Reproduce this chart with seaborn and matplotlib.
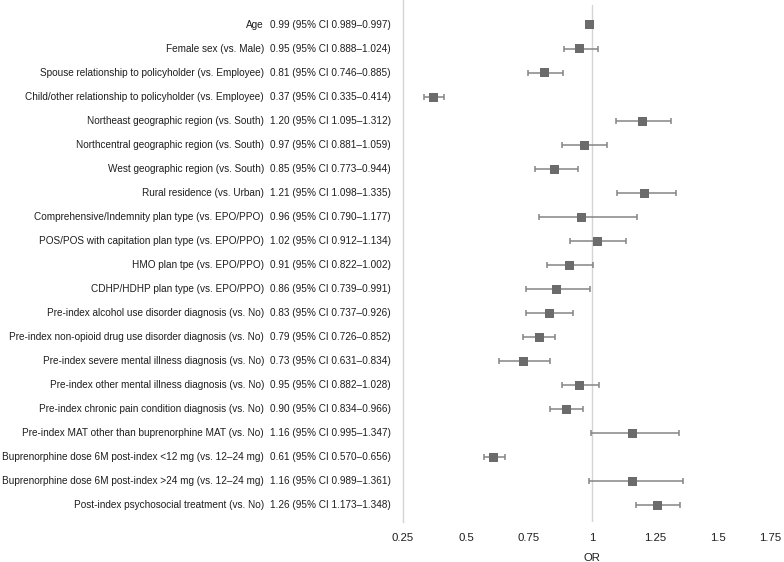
import matplotlib
matplotlib.use("Agg")
import matplotlib.pyplot as plt
import matplotlib.transforms as mtransforms
import seaborn as sns
import pandas as pd

labels = [
    "Age",
    "Female sex (vs. Male)",
    "Spouse relationship to policyholder (vs. Employee)",
    "Child/other relationship to policyholder (vs. Employee)",
    "Northeast geographic region (vs. South)",
    "Northcentral geographic region (vs. South)",
    "West geographic region (vs. South)",
    "Rural residence (vs. Urban)",
    "Comprehensive/Indemnity plan type (vs. EPO/PPO)",
    "POS/POS with capitation plan type (vs. EPO/PPO)",
    "HMO plan tpe (vs. EPO/PPO)",
    "CDHP/HDHP plan type (vs. EPO/PPO)",
    "Pre-index alcohol use disorder diagnosis (vs. No)",
    "Pre-index non-opioid drug use disorder diagnosis (vs. No)",
    "Pre-index severe mental illness diagnosis (vs. No)",
    "Pre-index other mental illness diagnosis (vs. No)",
    "Pre-index chronic pain condition diagnosis (vs. No)",
    "Pre-index MAT other than buprenorphine MAT (vs. No)",
    "Buprenorphine dose 6M post-index <12 mg (vs. 12\u201324 mg)",
    "Buprenorphine dose 6M post-index >24 mg (vs. 12\u201324 mg)",
    "Post-index psychosocial treatment (vs. No)",
]
odds = [0.99, 0.95, 0.81, 0.37, 1.20, 0.97, 0.85, 1.21, 0.96, 1.02, 0.91,
        0.86, 0.83, 0.79, 0.73, 0.95, 0.90, 1.16, 0.61, 1.16, 1.26]
ci_low = [0.989, 0.888, 0.746, 0.335, 1.095, 0.881, 0.773, 1.098, 0.790, 0.912,
          0.822, 0.739, 0.737, 0.726, 0.631, 0.882, 0.834, 0.995, 0.570, 0.989, 1.173]
ci_high = [0.997, 1.024, 0.885, 0.414, 1.312, 1.059, 0.944, 1.335, 1.177, 1.134,
           1.002, 0.991, 0.926, 0.852, 0.834, 1.028, 0.966, 1.347, 0.656, 1.361, 1.348]
x_ticks = [0.25, 0.5, 0.75, 1, 1.25, 1.5, 1.75]
x_tick_labels = ["0.25", "0.5", "0.75", "1", "1.25", "1.5", "1.75"]

df = pd.DataFrame({"label": labels, "OR": odds, "lo": ci_low, "hi": ci_high})
df["row"] = range(len(df))

sns.set_style("white")
plt.rcParams["font.family"] = ["Liberation Sans", "DejaVu Sans"]

W, H = 784, 562
fig = plt.figure(figsize=(W / 100, H / 100), dpi=100)
ax = fig.add_axes([403 / W, 1 - 522 / H, (781 - 403) / W, 522 / H])

text_color = "#1e1e1e"
err_color = "#858585"
ax.errorbar(df["OR"], df["row"],
            xerr=[df["OR"] - df["lo"], df["hi"] - df["OR"]],
            fmt="none", ecolor=err_color, elinewidth=1.1, capsize=2.1,
            capthick=1.1, zorder=2)
sns.scatterplot(data=df, x="OR", y="row", marker="s", s=42, color="#6b6b6b",
                edgecolor="none", ax=ax, zorder=3, legend=False)

ax.axvline(1, ymin=0, ymax=0.99, color="#d4d4d4", lw=1.0, zorder=1)

ax.set_xlim(0.25, 1.75)
ax.set_ylim(20.7, -1.04)
ax.set_xticks(x_ticks)
ax.set_xticklabels(x_tick_labels, fontsize=8.2, color=text_color)
ax.get_xticklabels()[-1].set_horizontalalignment("right")
ax.set_yticks([])
ax.set_ylabel("")
ax.set_xlabel("OR", fontsize=8.2, color=text_color, labelpad=7)
ax.tick_params(axis="x", length=0, pad=8)
for s in ["top", "right", "bottom"]:
    ax.spines[s].set_visible(False)
ax.spines["left"].set_color("#d4d4d4")
ax.spines["left"].set_linewidth(1.0)

trans = mtransforms.blended_transform_factory(fig.transFigure, ax.transData)
for i, r in df.iterrows():
    ax.text(264 / W, r["row"], r["label"], transform=trans, ha="right",
            va="center", fontsize=7.2, color=text_color)
    ax.text(270 / W, r["row"],
            f"{r['OR']:.2f} (95% CI {r['lo']:.3f}\u2013{r['hi']:.3f})",
            transform=trans, ha="left", va="center", fontsize=7.2,
            color=text_color)

fig.savefig("out.png", dpi=100)
